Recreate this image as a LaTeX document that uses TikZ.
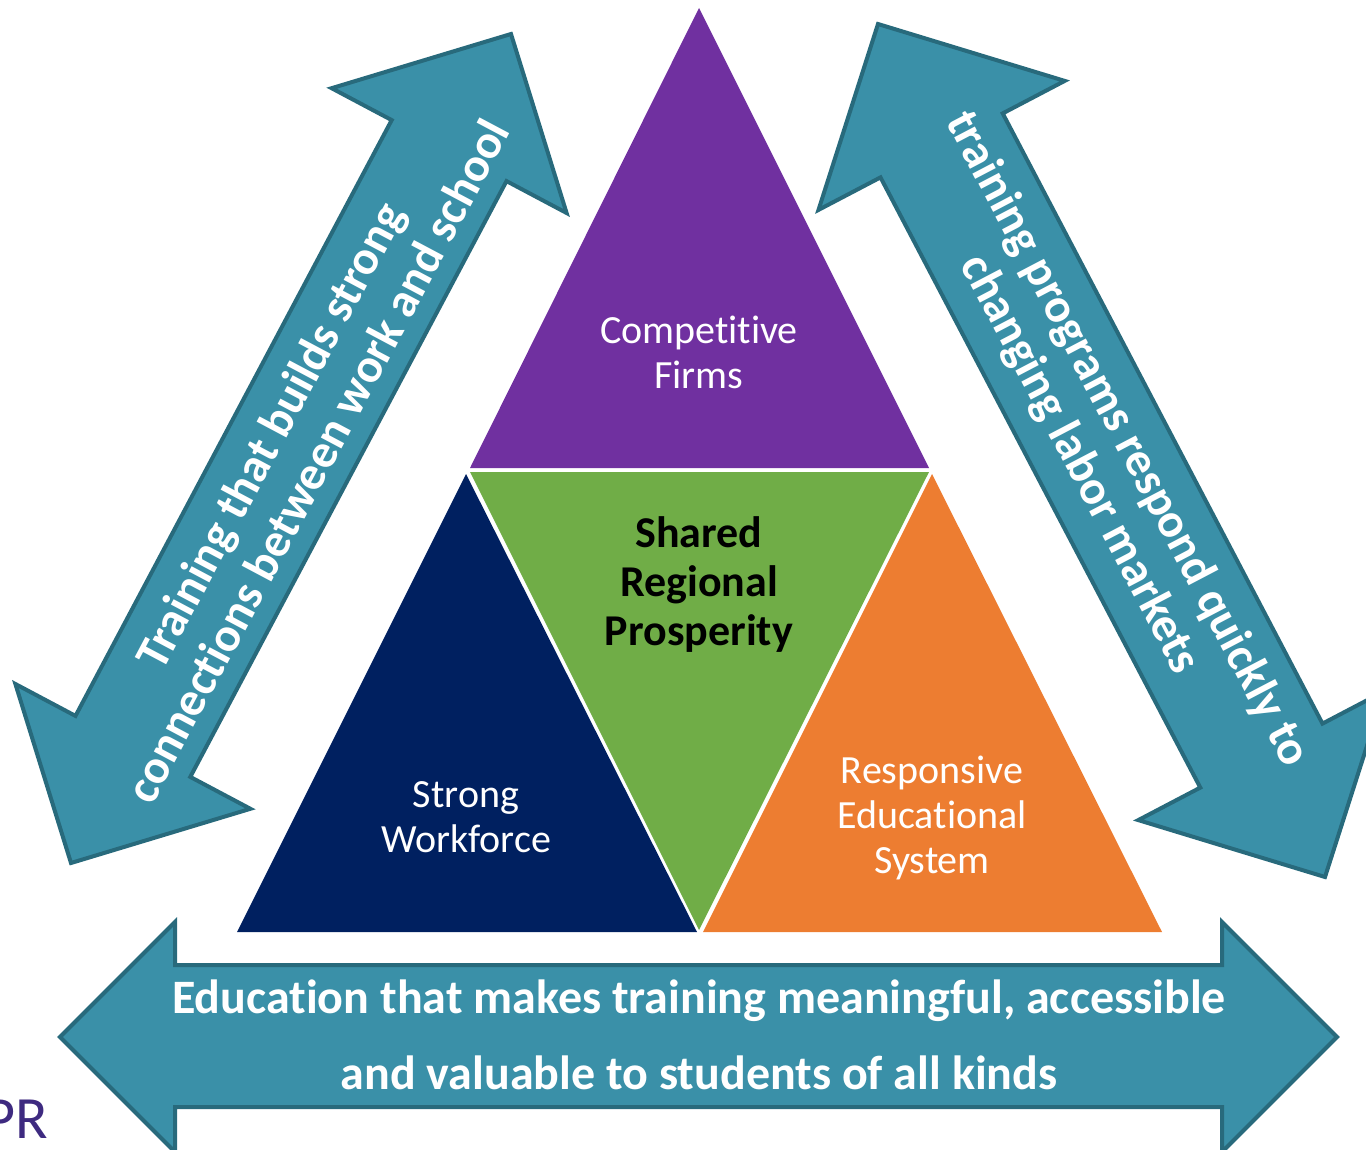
\documentclass[tikz,border=0pt]{standalone}
\usepackage{fontspec}
\setmainfont{Carlito}[Ligatures={NoCommon,NoContextual}]
\definecolor{purp}{RGB}{112,48,160}
\definecolor{grn}{RGB}{112,173,71}
\definecolor{navy}{RGB}{0,32,96}
\definecolor{orng}{RGB}{237,125,49}
\definecolor{tealf}{RGB}{58,144,168}
\definecolor{teald}{RGB}{40,106,124}
\definecolor{logo}{RGB}{62,42,128}
\begin{document}
\begin{tikzpicture}[x=1pt,y=-1pt,
  arrowshape/.style={fill=tealf,draw=teald,line width=4pt,line join=miter},
  trilabel/.style={align=center,font=\fontsize{40}{45}\selectfont,inner sep=0pt},
  arrowtext/.style={align=center,text=white,font=\bfseries\fontsize{48}{54}\selectfont,inner sep=0pt}]
\useasboundingbox (0,0) rectangle (1366,1150);
% triangles
\fill[purp] (699,8) -- (929,468) -- (470,468) -- cycle;
\fill[grn] (470,472) -- (929,472) -- (699,930) -- cycle;
\fill[navy] (466,474) -- (697,932) -- (237,932) -- cycle;
\fill[orng] (932,474) -- (1162,932) -- (703,932) -- cycle;
% left diagonal arrow
\draw[arrowshape] (511,34) -- (566.6,213.0) -- (506.5,181.1) -- (190.3,776.9) -- (250.4,808.8)
  -- (71,863) -- (15.4,684.0) -- (75.5,715.9) -- (391.7,120.1) -- (331.6,88.2) -- cycle;
% right diagonal arrow
\draw[arrowshape] (878,24) -- (1064.7,80.9) -- (1002.7,113.4) -- (1322.5,723.6) -- (1384.5,691.1)
  -- (1325,877) -- (1138.3,820.1) -- (1200.3,787.6) -- (880.5,177.4) -- (818.5,209.9) -- cycle;
% bottom arrow
\draw[arrowshape] (60,1037) -- (175,922) -- (175,965) -- (1222,965) -- (1222,922) -- (1337,1037)
  -- (1222,1152) -- (1222,1107) -- (175,1107) -- (175,1152) -- cycle;
% labels
\node[trilabel,text=white] (firms) at (699,352) {Competitive\\Firms};
\node[trilabel,font=\bfseries\fontsize{44}{49}\selectfont] (shared) at (699,585) {Shared\\Regional\\Prosperity};
\node[trilabel,text=white] (work) at (466,817) {Strong\\Workforce};
\node[trilabel,text=white] (edu) at (932,818) {Responsive\\Educational\\System};
\node[arrowtext,rotate=62.04] (ltext) at (293,448) {Training that builds strong\\connections between work and school};
\node[arrowtext,rotate=-62.35] (rtext) at (1103,452) {training programs respond quickly to\\changing labor markets};
\node[arrowtext,font=\bfseries\fontsize{48}{76}\selectfont] (btext) at (699,1035) {Education that makes training meaningful, accessible\\and valuable to students of all kinds};
\node[text=logo,font=\fontsize{60}{60}\selectfont,inner sep=0pt,anchor=base east] (pr) at (48,1138) {PR};
\end{tikzpicture}
\end{document}
